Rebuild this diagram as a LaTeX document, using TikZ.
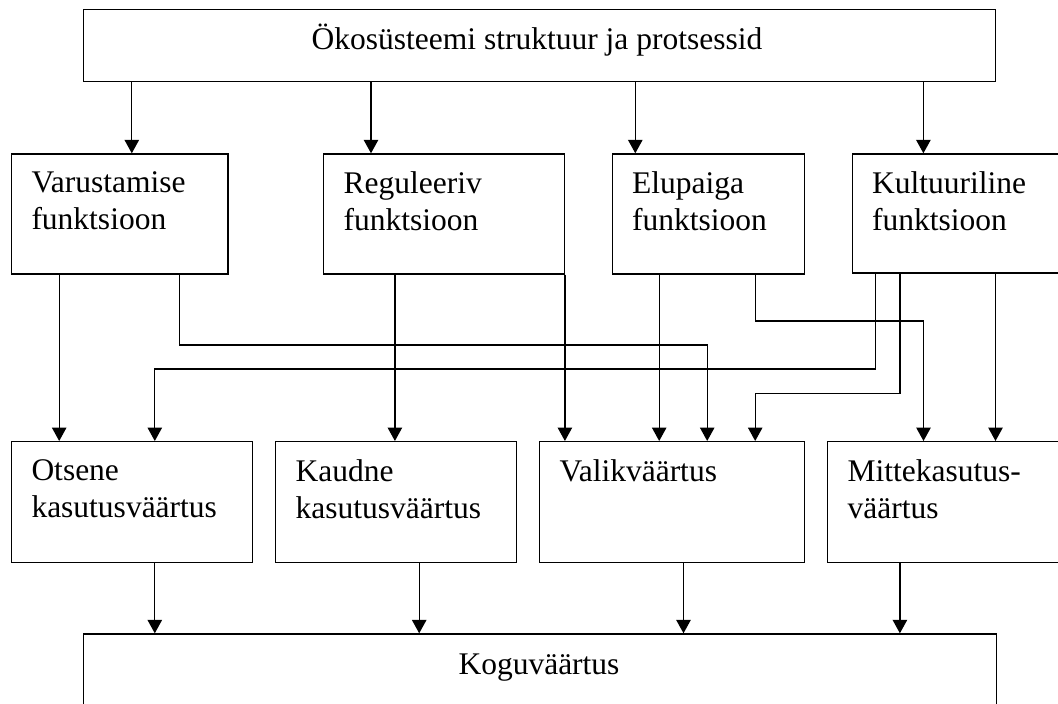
\documentclass[tikz,border=0pt]{standalone}
\usepackage{fontspec}
\setmainfont{Liberation Serif}
\usetikzlibrary{arrows.meta}
\begin{document}
\begin{tikzpicture}[x=1pt,y=-1pt,
  box/.style={draw,line width=1.4pt,rectangle,inner sep=0pt,anchor=north west},
  lbl/.style={inner sep=0pt,anchor=north west,align=left,font=\fontsize{31.5pt}{36.7pt}\selectfont},
  ctr/.style={inner sep=0pt,anchor=base,font=\fontsize{31.5pt}{36.7pt}\selectfont},
  arr/.style={line width=1.3pt,-{Triangle[width=14.5pt,length=13.5pt]}}]
\useasboundingbox (0,0) rectangle (1058,704);
\clip (0,0) rectangle (1058,704);
% boxes
\node[box,minimum width=912pt,minimum height=72pt] (top) at (82.5,8.8) {};
\node[box,minimum width=216.4pt,minimum height=120pt] (var) at (10.8,153.3) {};
\node[box,minimum width=240.6pt,minimum height=120pt] (reg) at (322.9,153.3) {};
\node[box,minimum width=192pt,minimum height=120pt] (elu) at (611.5,153.3) {};
\node[box,minimum width=240pt,minimum height=119pt] (kul) at (851.5,153.3) {};
\node[box,minimum width=241.1pt,minimum height=120.7pt] (ots) at (10.8,441) {};
\node[box,minimum width=241pt,minimum height=120.7pt] (kau) at (274.9,441) {};
\node[box,minimum width=264.7pt,minimum height=120.7pt] (val) at (538.8,441) {};
\node[box,minimum width=260pt,minimum height=120.7pt] (mit) at (827,441) {};
\node[box,minimum width=912.7pt,minimum height=120pt] (kog) at (82.8,633.3) {};
% texts
\node[ctr] (topt) at (537,49) {Ökosüsteemi struktuur ja protsessid};
\node[lbl] (vart) at (31.3,171.8) {Varustamise\\funktsioon};
\node[lbl] (regt) at (343.4,171.8) {Reguleeriv\\funktsioon};
\node[lbl] (elut) at (632,171.8) {Elupaiga\\funktsioon};
\node[lbl] (kult) at (872,171.8) {Kultuuriline\\funktsioon};
\node[lbl] (otst) at (31.3,459.5) {Otsene\\kasutusväärtus};
\node[lbl] (kaut) at (295.4,459.5) {Kaudne\\kasutusväärtus};
\node[lbl] (valt) at (559.3,459.5) {Valikväärtus};
\node[lbl] (mitt) at (847.5,459.5) {Mittekasutus-\\väärtus};
\node[ctr] (kogt) at (539,674) {Koguväärtus};
% top to functions
\draw[arr] (top.south -| 131.8,0) -- (var.north -| 131.8,0);
\draw[arr] (top.south -| 371,0) -- (reg.north -| 371,0);
\draw[arr] (top.south -| 635.3,0) -- (elu.north -| 635.3,0);
\draw[arr] (top.south -| 923.4,0) -- (kul.north -| 923.4,0);
% Varustamise
\draw[arr] (var.south -| 59.2,0) -- (ots.north -| 59.2,0);
\draw[arr] (var.south -| 179.2,0) |- (707.2,345) -- (val.north -| 707.2,0);
% Reguleeriv
\draw[arr] (reg.south -| 394.9,0) -- (kau.north -| 394.9,0);
\draw[arr] (reg.south east) -- (val.north -| reg.south east);
% Elupaiga
\draw[arr] (elu.south -| 659.2,0) -- (val.north -| 659.2,0);
\draw[arr] (elu.south -| 755.2,0) |- (923.5,321) -- (mit.north -| 923.5,0);
% Kultuuriline
\draw[arr] (kul.south -| 875.5,0) |- (154.8,369) -- (ots.north -| 154.8,0);
\draw[arr] (kul.south -| 899.9,0) |- (755.2,393.3) -- (val.north -| 755.2,0);
\draw[arr] (kul.south -| 995.5,0) -- (mit.north -| 995.5,0);
% values to total
\draw[arr] (ots.south -| 154.8,0) -- (kog.north -| 154.8,0);
\draw[arr] (kau.south -| 419.2,0) -- (kog.north -| 419.2,0);
\draw[arr] (val.south -| 683.5,0) -- (kog.north -| 683.5,0);
\draw[arr] (mit.south -| 899.9,0) -- (kog.north -| 899.9,0);
\end{tikzpicture}
\end{document}
